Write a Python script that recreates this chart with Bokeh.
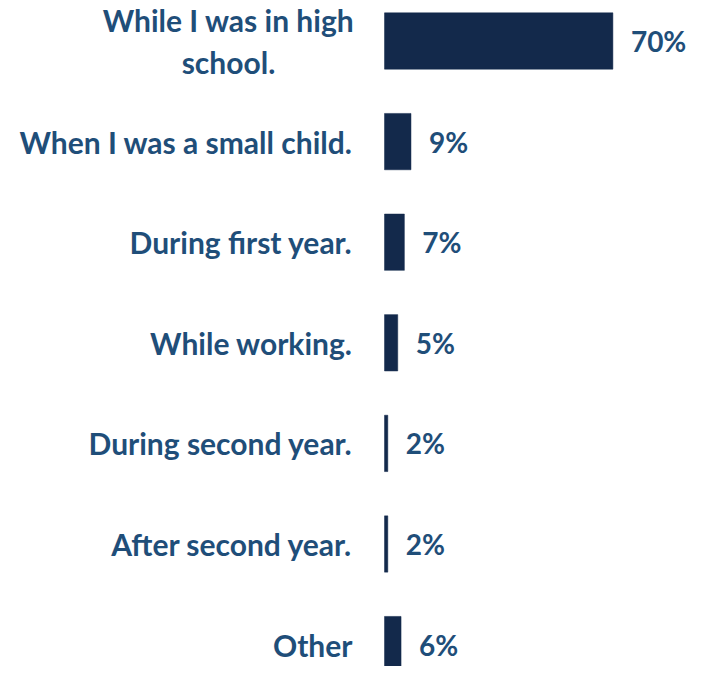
from bokeh.plotting import figure
from bokeh.models import ColumnDataSource, Range1d
from bokeh.core.properties import value
from bokeh.embed import file_html
from bokeh.resources import INLINE

categories = ["While I was in high\nschool.", "When I was a small child.", "During first year.",
              "While working.", "During second year.", "After second year.", "Other"]
values = [70, 9, 7, 5, 2, 2, 6]
value_labels = ["70%", "9%", "7%", "5%", "2%", "2%", "6%"]

BAR = "#13294B"
TXT = "#1F4E79"
FONT = "Lato"

W, H = 694, 666
axis_start = 1.0          # value axis starts at 1
px_per_unit = 3.31
frame_left_px = 384       # pixels from figure left to the value-axis origin
x0 = axis_start - frame_left_px / px_per_unit
x1 = x0 + W / px_per_unit

row_px = 100.6
top_px = 40.5
y_top = -top_px / row_px
y_bot = y_top + H / row_px

rows = list(range(len(categories)))
multi = ["\n" in c for c in categories]
src = ColumnDataSource(dict(
    y=rows, v=values, lab=value_labels, cat=categories,
    base=[axis_start] * len(rows),
    align=["center" if m else "right" for m in multi],
    xoff=[-156 if m else -32 for m in multi],
))

p = figure(width=W, height=H, output_backend="svg", toolbar_location=None,
           x_range=Range1d(x0, x1), y_range=Range1d(y_bot, y_top),
           min_border=0, outline_line_color=None)
p.axis.visible = False
p.grid.visible = False

p.hbar(y="y", left="base", right="v", height=0.56, source=src,
       fill_color=BAR, line_color=BAR, line_width=0.5)

p.text(x="v", y="y", text="lab", source=src, x_offset=18,
       text_align="left", text_baseline="middle",
       text_font=value(FONT), text_font_style="bold", text_font_size="28px",
       text_color=TXT)

p.text(x="base", y="y", text="cat", source=src, x_offset="xoff",
       text_align="align", text_baseline="middle",
       text_font=value(FONT), text_font_style="bold", text_font_size="30px",
       text_color=TXT, text_line_height=1.15)

open("out.html", "w").write(file_html(p, INLINE))
